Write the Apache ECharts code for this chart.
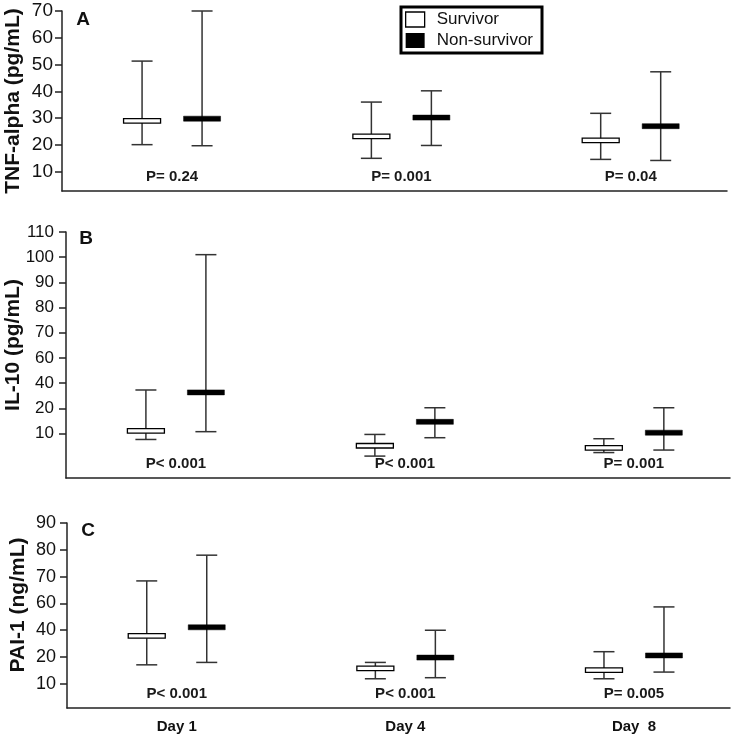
<!DOCTYPE html>
<html><head><meta charset="utf-8">
<script src="https://cdn.jsdelivr.net/npm/echarts@6/dist/echarts.min.js"></script>
<style>html,body{margin:0;padding:0;background:#fff}#c{width:735px;height:740px}</style>
</head><body><div id="c"></div>
<script>
// ---- data ----
const days = ['Day 1', 'Day 4', 'Day  8'];

const tnfTicks = [10, 20, 30, 40, 50, 60, 70];
const tnfSurvLow = [20.1, 15.0, 14.6];
const tnfSurvMed = [29.0, 23.2, 21.7];
const tnfSurvHigh = [51.3, 36.0, 31.8];
const tnfNonLow = [19.7, 19.8, 14.2];
const tnfNonMed = [29.8, 30.2, 27.0];
const tnfNonHigh = [70.0, 40.2, 47.3];
const tnfP = ['P= 0.24', 'P= 0.001', 'P= 0.04'];

const il10Ticks = [10, 20, 40, 60, 70, 80, 90, 100, 110];
const il10SurvLow = [7.6, 1.0, 2.4];
const il10SurvMed = [11.0, 5.1, 4.3];
const il10SurvHigh = [34.5, 9.6, 7.9];
const il10NonLow = [10.7, 8.3, 3.4];
const il10NonMed = [32.6, 14.6, 10.3];
const il10NonHigh = [101, 20.4, 20.4];
const il10P = ['P< 0.001', 'P< 0.001', 'P= 0.001'];

const pai1Ticks = [10, 20, 40, 60, 70, 80, 90];
const pai1SurvLow = [17.1, 11.9, 11.9];
const pai1SurvMed = [35.8, 15.8, 15.1];
const pai1SurvHigh = [68.4, 18.0, 24.0];
const pai1NonLow = [18.0, 12.3, 14.4];
const pai1NonMed = [42.2, 19.8, 21.2];
const pai1NonHigh = [78.0, 40.0, 57.4];
const pai1P = ['P< 0.001', 'P< 0.001', 'P= 0.005'];

// piecewise-linear axis: each tick label occupies one equal step
function toIdx(v, ticks) {
  const n = ticks.length;
  if (v <= ticks[1]) return (v - ticks[0]) / (ticks[1] - ticks[0]);
  for (let i = 1; i < n - 1; i++) {
    if (v <= ticks[i + 1]) return i + (v - ticks[i]) / (ticks[i + 1] - ticks[i]);
  }
  return n - 1 + (v - ticks[n - 1]) / (ticks[n - 1] - ticks[n - 2]);
}

const FONT = '"Liberation Sans", Arial, sans-serif';

const panels = [
  { ticks: tnfTicks, s: [tnfSurvLow, tnfSurvMed, tnfSurvHigh], n: [tnfNonLow, tnfNonMed, tnfNonHigh], p: tnfP,
    title: 'TNF-alpha (pg/mL)', letter: 'A', grid: { left: 62, top: 11, right: 8, height: 180 }, min: -0.72,
    fs: 19, margin: 9, titlePos: [13, 101], letterPos: [83, 20] },
  { ticks: il10Ticks, s: [il10SurvLow, il10SurvMed, il10SurvHigh], n: [il10NonLow, il10NonMed, il10NonHigh], p: il10P,
    title: 'IL-10 (pg/mL)', letter: 'B', grid: { left: 66, top: 232, right: 5, height: 246 }, min: -1.77,
    fs: 17, margin: 12, titlePos: [13, 345], letterPos: [86, 239] },
  { ticks: pai1Ticks, s: [pai1SurvLow, pai1SurvMed, pai1SurvHigh], n: [pai1NonLow, pai1NonMed, pai1NonHigh], p: pai1P,
    title: 'PAI-1 (ng/mL)', letter: 'C', grid: { left: 67, top: 523, right: 5, height: 185 }, min: -0.9,
    fs: 18, margin: 11, titlePos: [18, 605], letterPos: [88, 531] }
];

function makeRender(offset, filled) {
  return function (params, api) {
    const c = api.value(0);
    const x = api.coord([c, api.value(2)])[0] + offset;
    const yLo = api.coord([c, api.value(1)])[1];
    const yMed = api.coord([c, api.value(2)])[1];
    const yHi = api.coord([c, api.value(3)])[1];
    const cap = 21, barW = 37, barH = filled ? 5 : 4.5;
    const ls = { stroke: '#333', lineWidth: 1.5 };
    return {
      type: 'group',
      children: [
        { type: 'line', shape: { x1: x, y1: yLo, x2: x, y2: yHi }, style: ls },
        { type: 'line', shape: { x1: x - cap / 2, y1: yLo, x2: x + cap / 2, y2: yLo }, style: ls },
        { type: 'line', shape: { x1: x - cap / 2, y1: yHi, x2: x + cap / 2, y2: yHi }, style: ls },
        { type: 'rect', shape: { x: x - barW / 2, y: yMed - barH / 2, width: barW, height: barH },
          style: filled ? { fill: '#000', stroke: '#000', lineWidth: 0.5 } : { fill: '#fff', stroke: '#000', lineWidth: 1.3 } }
      ]
    };
  };
}

const grids = [], xAxes = [], yAxes = [], series = [];
panels.forEach((pn, i) => {
  grids.push(Object.assign({ containLabel: false }, pn.grid));
  xAxes.push({
    type: 'value', gridIndex: i, min: -0.48, max: 2.42,
    axisLine: { show: true, onZero: false, lineStyle: { color: '#222', width: 1.5 } },
    axisTick: { show: false },
    splitLine: { show: false },
    axisLabel: {
      show: i === 2, customValues: [0, 1, 2], margin: 11,
      formatter: v => days[Math.round(v)] || '',
      fontFamily: FONT, fontWeight: 'bold', fontSize: 15, color: '#111'
    }
  });
  const idxVals = pn.ticks.map((t, k) => k);
  yAxes.push({
    type: 'value', gridIndex: i, min: pn.min, max: pn.ticks.length - 1, position: 'left',
    axisLine: { show: true, onZero: false, lineStyle: { color: '#222', width: 1.5 } },
    axisTick: { show: true, customValues: idxVals, length: 7, lineStyle: { color: '#222', width: 1.5 } },
    splitLine: { show: false },
    axisLabel: {
      customValues: idxVals, margin: pn.margin,
      formatter: v => String(pn.ticks[Math.round(v)]),
      fontFamily: FONT, fontSize: pn.fs, color: '#111'
    }
  });
  const mk = (arr) => days.map((d, j) => [j, toIdx(arr[0][j], pn.ticks), toIdx(arr[1][j], pn.ticks), toIdx(arr[2][j], pn.ticks)]);
  series.push({
    type: 'custom', name: 'Survivor', xAxisIndex: i, yAxisIndex: i, silent: true,
    itemStyle: { color: '#fff', borderColor: '#000' },
    encode: { x: 0, y: [1, 2, 3] }, data: mk(pn.s), renderItem: makeRender(-30, false)
  });
  series.push({
    type: 'custom', name: 'Non-survivor', xAxisIndex: i, yAxisIndex: i, silent: true,
    itemStyle: { color: '#000' },
    encode: { x: 0, y: [1, 2, 3] }, data: mk(pn.n), renderItem: makeRender(30, true)
  });
});

const chart = echarts.init(document.getElementById('c'), null, { renderer: 'canvas' });
chart.setOption({
  animation: false,
  backgroundColor: '#fff',
  grid: grids, xAxis: xAxes, yAxis: yAxes, series: series,
  legend: {
    orient: 'vertical', left: 401, top: 7,
    borderColor: '#000', borderWidth: 3, borderRadius: 0,
    padding: [4, 9, 4, 4], itemGap: 4, itemWidth: 19, itemHeight: 15,
    selectedMode: false,
    textStyle: { fontFamily: FONT, fontSize: 17, color: '#111', padding: [0, 0, 0, 7] },
    data: [
      { name: 'Survivor', icon: 'rect', itemStyle: { color: '#fff', borderColor: '#000', borderWidth: 1.3 } },
      { name: 'Non-survivor', icon: 'rect', itemStyle: { color: '#000', borderColor: '#000', borderWidth: 0 } }
    ]
  }
});

const gfx = [];
panels.forEach((pn, i) => {
  const bottom = pn.grid.top + pn.grid.height;
  pn.p.forEach((txt, j) => {
    const px = chart.convertToPixel({ xAxisIndex: i }, j);
    gfx.push({ type: 'text', x: px, y: bottom - 14, silent: true,
      style: { text: txt, fontFamily: FONT, fontWeight: 'bold', fontSize: 15, fill: '#1a1a1a', textAlign: 'center', textVerticalAlign: 'middle' } });
  });
  gfx.push({ type: 'text', x: pn.titlePos[0], y: pn.titlePos[1], rotation: Math.PI / 2, silent: true,
    style: { text: pn.title, fontFamily: FONT, fontWeight: 'bold', fontSize: 21, fill: '#111', textAlign: 'center', textVerticalAlign: 'middle' } });
  gfx.push({ type: 'text', x: pn.letterPos[0], y: pn.letterPos[1], silent: true,
    style: { text: pn.letter, fontFamily: FONT, fontWeight: 'bold', fontSize: 19, fill: '#111', textAlign: 'center', textVerticalAlign: 'middle' } });
});
chart.setOption({ graphic: gfx });
</script>
</body></html>
